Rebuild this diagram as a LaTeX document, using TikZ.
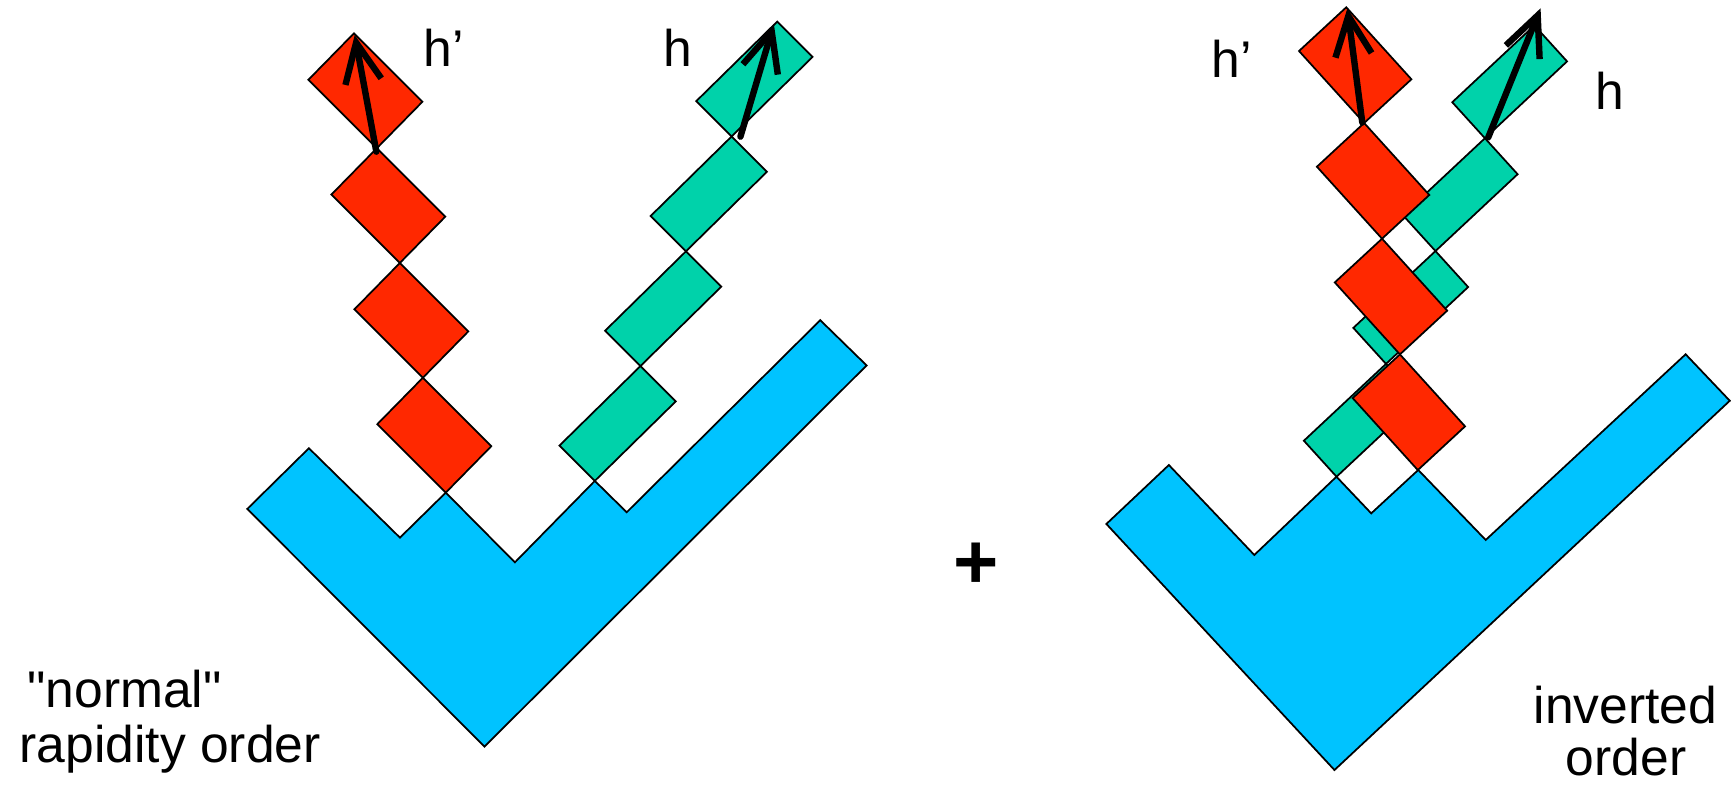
\documentclass[tikz,border=0pt]{standalone}
\usepackage{fontspec}
\setmainfont{Liberation Sans}[Ligatures=TeXOff]
\usetikzlibrary{arrows.meta}

\definecolor{quarkred}{RGB}{255,40,0}
\definecolor{quarkgreen}{RGB}{0,210,170}
\definecolor{ladderblue}{RGB}{0,195,255}

\tikzset{
  redcell/.style={draw, fill=quarkred},
  greencell/.style={draw, fill=quarkgreen},
  ladder/.style={draw, fill=ladderblue},
  hadron/.style={line width=1.65pt, line cap=round, -{Straight Barb[length=3.6mm,width=3.3mm]}},
  lbl/.style={inner sep=0pt, font=\fontsize{13.3}{16}\selectfont},
}

\begin{document}
\begin{tikzpicture}[x=0.1mm, y=-0.1mm, line width=0.45pt]
        \useasboundingbox (0,0) rectangle (1568,711);

        % Normal rapidity order: ladder at the bottom.
        \draw[ladder] (224,461) -- (279.8,406) -- (362.3,487) -- (403.8,446.2) -- (466.4,509.4)
        -- (538.8,435.6) -- (567.7,464) -- (743,290) -- (785,331) -- (438.9,676.3) -- cycle;
        % h' chain (red), h chain (green).
        \draw[redcell] (320.6,30.2) -- ++(62,62) -- ++(-41.2,42) -- ++(-62,-62) -- cycle;
        \draw[redcell] (341.4,134.2) -- ++(62,62) -- ++(-41.2,42) -- ++(-62,-62) -- cycle;
        \draw[redcell] (362.2,238.2) -- ++(62,62) -- ++(-41.2,42) -- ++(-62,-62) -- cycle;
        \draw[redcell] (383,342.2) -- ++(62,62) -- ++(-41.2,42) -- ++(-62,-62) -- cycle;
        \draw[greencell] (704,19.6) -- ++(32,32) -- ++(-73.3,72) -- ++(-32,-32) -- cycle;
        \draw[greencell] (662.7,123.6) -- ++(32,32) -- ++(-73.3,72) -- ++(-32,-32) -- cycle;
        \draw[greencell] (621.4,227.6) -- ++(32,32) -- ++(-73.3,72) -- ++(-32,-32) -- cycle;
        \draw[greencell] (580.1,331.6) -- ++(32,32) -- ++(-73.3,72) -- ++(-32,-32) -- cycle;
        % Hadron momenta.
        \coordinate (lredtail) at (340.9,137.4);
        \coordinate (lredtip) at (321.3,31.7);
        \coordinate (lgreentail) at (670.7,123.8);
        \coordinate (lgreentip) at (701,21.7);
        \draw[hadron] (lredtail) -- (lredtip);
        \draw[hadron] (lgreentail) -- (lgreentip);
        \node[lbl, anchor=base west] (hpleft) at (383,60.4) {h’};
        \node[lbl, anchor=base west] (hleft) at (600,60.4) {h};
        \node[lbl, anchor=base west] (normal) at (24,641.3) {"normal"};
        \node[lbl, anchor=base west] (rapidity) at (17,691) {rapidity order};

        \node[font=\fontsize{20}{24}\selectfont\bfseries, inner sep=0pt, anchor=base] (plus) at (884,533) {+};

        % Inverted order: the two chains cross.
        \draw[ladder] (1002.2,474.6) -- (1058.8,421.2) -- (1136.2,502.7) -- (1210.6,431.8) -- (1242.1,465)
        -- (1284.7,425.7) -- (1345.8,489.1) -- (1526.9,320.9) -- (1566.9,363) -- (1208.8,697.5) -- cycle;
        \draw[greencell] (1389.9,23) -- ++(29.6,32.6) -- ++(-74.4,69.6) -- ++(-29.6,-32.6) -- cycle;
        \draw[greencell] (1345.1,125.2) -- ++(29.6,32.6) -- ++(-74.4,69.6) -- ++(-29.6,-32.6) -- cycle;
        \draw[greencell] (1300.3,227.4) -- ++(29.6,32.6) -- ++(-74.4,69.6) -- ++(-29.6,-32.6) -- cycle;
        \draw[greencell] (1255.5,329.6) -- ++(29.6,32.6) -- ++(-74.4,69.6) -- ++(-29.6,-32.6) -- cycle;
        \draw[redcell] (1219.5,6.6) -- ++(59,65.2) -- ++(-42.8,39.6) -- ++(-59,-65.2) -- cycle;
        \draw[redcell] (1235.7,111.4) -- ++(59,65.2) -- ++(-42.8,39.6) -- ++(-59,-65.2) -- cycle;
        \draw[redcell] (1251.9,216.2) -- ++(59,65.2) -- ++(-42.8,39.6) -- ++(-59,-65.2) -- cycle;
        \draw[redcell] (1268.1,321) -- ++(59,65.2) -- ++(-42.8,39.6) -- ++(-59,-65.2) -- cycle;
        \coordinate (rredtail) at (1234,111);
        \coordinate (rredtip) at (1220.5,7.5);
        \coordinate (rgreentail) at (1348.1,124.4);
        \coordinate (rgreentip) at (1395.5,7.5);
        \draw[hadron] (rredtail) -- (rredtip);
        \draw[hadron] (rgreentail) -- (rgreentip);
        \node[lbl, anchor=base west] (hpright) at (1096.5,70) {h’};
        \node[lbl, anchor=base west] (hright) at (1444.5,99) {h};
        \node[lbl, anchor=base] (inverted) at (1472.5,655) {inverted};
        \node[lbl, anchor=base] (order) at (1473,702) {order};
    \end{tikzpicture}
\end{document}
